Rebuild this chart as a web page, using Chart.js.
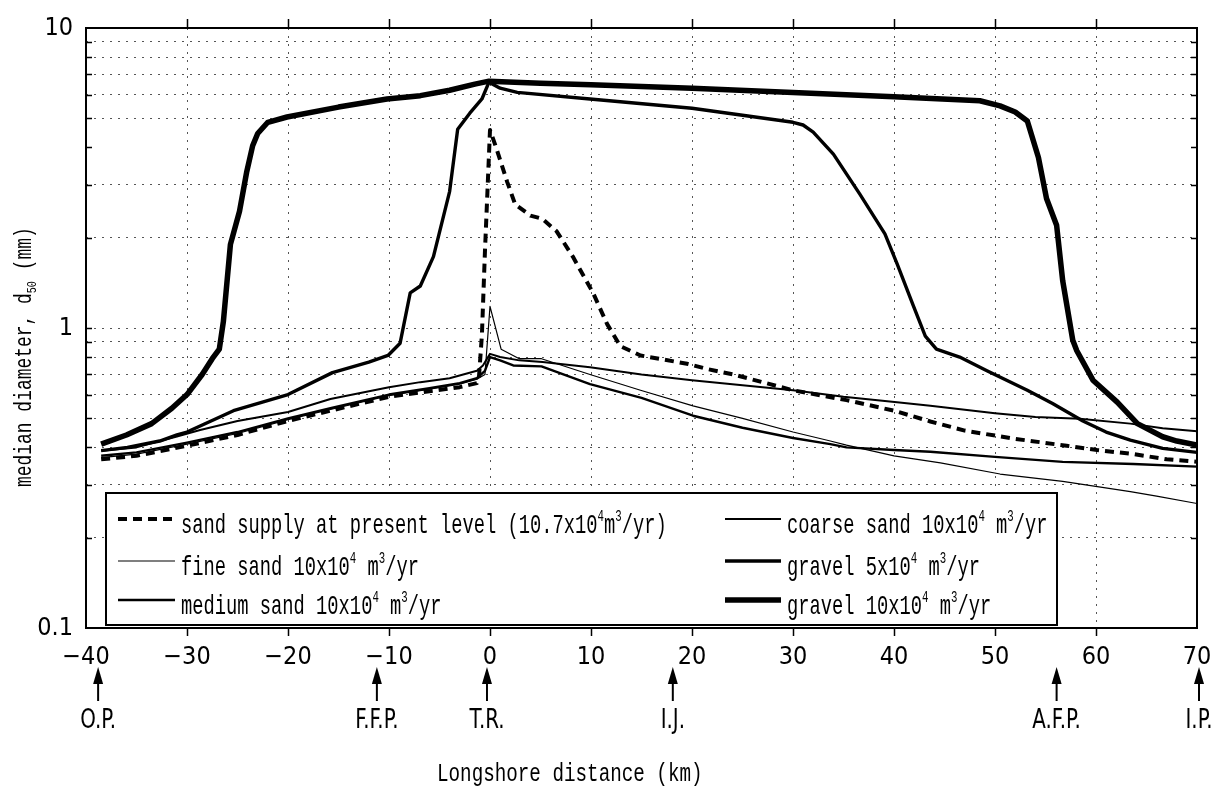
<!DOCTYPE html>
<html>
<head>
<meta charset="utf-8">
<script src="https://cdn.jsdelivr.net/npm/chart.js@4.4.1/dist/chart.umd.min.js"></script>
<style>
  html, body { margin: 0; padding: 0; background: #fff; }
  canvas { display: block; }
</style>
</head>
<body>
<canvas id="c" width="1229" height="791"></canvas>
<script>
// ── Data (km alongshore, d50 in mm) ─────────────────────────────────────────

const presentKm  = [-38.5, -35, -30, -25, -20, -15.8, -10, -6, -3, -1.3, -1.1, -0.8, -0.5, 0, 0.6, 1.7, 2.5, 4.0, 5.2, 6.6, 8.2, 10.2, 11.6, 12.9, 14.9, 19.5, 21.5, 24.1, 30, 35.3, 40, 43.6, 47, 51.8, 57.1, 60.1, 63.7, 67, 70];
const presentD50 = [0.365, 0.375, 0.405, 0.44, 0.49, 0.53, 0.59, 0.615, 0.635, 0.655, 0.68, 0.95, 1.8, 4.57, 4.0, 3.07, 2.58, 2.37, 2.31, 2.1, 1.73, 1.31, 1.03, 0.87, 0.81, 0.76, 0.73, 0.70, 0.62, 0.575, 0.53, 0.488, 0.455, 0.428, 0.405, 0.392, 0.38, 0.365, 0.358];

const fineKm  = [-38.5, -35, -30, -25, -20, -15.8, -10, -6, -3, -1.3, -0.5, 0, 1.1, 2.9, 5.1, 9.9, 14.9, 20.1, 25, 30, 33.7, 35.3, 40, 44.6, 50.5, 56.7, 63.4, 66, 70];
const fineD50 = [0.37, 0.38, 0.41, 0.445, 0.495, 0.535, 0.595, 0.625, 0.65, 0.675, 0.70, 1.18, 0.85, 0.79, 0.79, 0.70, 0.62, 0.55, 0.50, 0.45, 0.42, 0.407, 0.375, 0.355, 0.326, 0.308, 0.285, 0.275, 0.26];

const mediumKm  = [-38.5, -35, -30, -25, -20, -15.8, -10, -6, -3, -1.3, -0.5, 0, 1, 2.3, 5.1, 9.9, 15, 20.1, 25, 30, 33.7, 35.3, 40, 43.6, 50, 56.7, 63.7, 70];
const mediumD50 = [0.375, 0.385, 0.415, 0.45, 0.50, 0.54, 0.60, 0.63, 0.655, 0.68, 0.72, 0.80, 0.78, 0.75, 0.745, 0.65, 0.585, 0.51, 0.465, 0.43, 0.41, 0.40, 0.392, 0.387, 0.372, 0.358, 0.352, 0.345];

const coarseKm  = [-38.5, -35, -31, -28.7, -25, -20, -15.8, -10, -6.9, -4, -1.3, -0.7, 0, 1, 2.9, 5.2, 9.9, 15, 20, 25, 30, 35, 40.3, 43.6, 50, 54, 58.4, 63.4, 66.6, 70];
const coarseD50 = [0.39, 0.40, 0.435, 0.457, 0.49, 0.525, 0.58, 0.635, 0.66, 0.68, 0.72, 0.75, 0.82, 0.80, 0.78, 0.77, 0.74, 0.70, 0.67, 0.645, 0.62, 0.59, 0.566, 0.551, 0.52, 0.505, 0.498, 0.48, 0.463, 0.453];

const gravel5Km  = [-38.5, -35.9, -32.7, -31, -30, -25.4, -20, -15.6, -12, -10.1, -8.9, -7.9, -6.9, -5.6, -4.0, -3.2, -2.0, -0.8, -0.1, 1, 2.7, 9.9, 20, 30, 31, 32, 34, 36.6, 39.1, 40.3, 41.9, 43.1, 44.2, 46.5, 49.2, 53.2, 55.7, 58.7, 61, 63.4, 66.6, 70];
const gravel5D50 = [0.39, 0.40, 0.42, 0.44, 0.45, 0.53, 0.60, 0.71, 0.77, 0.81, 0.89, 1.31, 1.38, 1.73, 2.85, 4.6, 5.2, 5.8, 6.6, 6.3, 6.1, 5.8, 5.4, 4.85, 4.75, 4.5, 3.8, 2.8, 2.06, 1.64, 1.19, 0.94, 0.85, 0.80, 0.72, 0.62, 0.56, 0.49, 0.45, 0.423, 0.397, 0.385];

const gravel10Km  = [-38.5, -36, -33.5, -31.5, -30, -28.5, -27.5, -26.8, -26.4, -25.7, -24.8, -24.1, -23.5, -23.0, -22.0, -20.1, -15, -10.2, -6.9, -4, -1.5, -0.1, 5, 10, 20, 30, 40, 48.5, 50.5, 52, 53.2, 54.3, 55.1, 56.1, 56.7, 57.7, 58.1, 59.7, 62.1, 64.1, 66.6, 68, 70];
const gravel10D50 = [0.41, 0.44, 0.48, 0.54, 0.60, 0.70, 0.79, 0.85, 1.05, 1.9, 2.45, 3.3, 4.05, 4.45, 4.85, 5.05, 5.45, 5.8, 5.95, 6.2, 6.5, 6.65, 6.55, 6.47, 6.3, 6.1, 5.9, 5.72, 5.5, 5.25, 4.9, 3.7, 2.7, 2.2, 1.44, 0.91, 0.84, 0.67, 0.566, 0.48, 0.434, 0.42, 0.407];

const legendLabels = [
  'sand supply at present level (10.7x10^4m^3/yr)',
  'fine sand 10x10^4 m^3/yr',
  'medium sand 10x10^4 m^3/yr',
  'coarse sand 10x10^4 m^3/yr',
  'gravel 5x10^4 m^3/yr',
  'gravel 10x10^4 m^3/yr',
];

const xTickValues = [-40, -30, -20, -10, 0, 10, 20, 30, 40, 50, 60, 70];
const yTickValues = [0.1, 0.2, 0.3, 0.4, 0.5, 0.6, 0.7, 0.8, 0.9, 1, 2, 3, 4, 5, 6, 7, 8, 9, 10];
const yTickLabels = { 0.1: '0.1', 1: '1', 10: '10' };

const siteKm     = [-38.8, -11.2, -0.3, 18.1, 56.1, 70.2];
const siteLabels = ['O.P.', 'F.F.P.', 'T.R.', 'I.J.', 'A.F.P.', 'I.P.'];

// ── Helpers ─────────────────────────────────────────────────────────────────

const MONO   = '"Liberation Mono", "DejaVu Sans Mono", monospace';
const NARROW = '"Liberation Sans Narrow", "DejaVu Sans Condensed", "Liberation Sans", sans-serif';

const pts = (xs, ys) => xs.map((x, i) => ({ x, y: ys[i] }));

// draws text with ^x superscripts and _xx subscripts, squeezed horizontally
function drawRich(ctx, str, size, sx, family) {
  ctx.save();
  ctx.scale(sx, 1);
  ctx.textBaseline = 'alphabetic';
  ctx.textAlign = 'left';
  let cx = 0;
  for (const p of str.split(/(\^.|_\d+)/)) {
    if (!p) continue;
    const sup = p[0] === '^', sub = p[0] === '_';
    const t   = (sup || sub) ? p.slice(1) : p;
    const sz  = (sup || sub) ? Math.round(size * 0.58) : size;
    ctx.font = `${sz}px ${family}`;
    ctx.fillText(t, cx, sup ? -size * 0.42 : sub ? size * 0.2 : 0);
    cx += ctx.measureText(t).width;
  }
  ctx.restore();
}

// ── Frame, legend and annotations ───────────────────────────────────────────

const figurePlugin = {
  id: 'figure',
  afterDatasetsDraw(chart) {
    const { ctx } = chart;
    const box = { left: 106, top: 493, right: 1057, bottom: 625 };
    ctx.save();
    ctx.fillStyle = '#fff';
    ctx.fillRect(box.left, box.top, box.right - box.left, box.bottom - box.top);
    ctx.strokeStyle = '#000';
    ctx.lineWidth = 2;
    ctx.strokeRect(box.left, box.top, box.right - box.left, box.bottom - box.top);

    const cols = [{ x0: 118, x1: 175, tx: 181 }, { x0: 725, x1: 781, tx: 787 }];
    const rows = [519, 561, 600];
    chart.data.datasets.forEach((ds, i) => {
      const col = cols[i < 3 ? 0 : 1];
      const ly  = rows[i % 3];
      ctx.beginPath();
      ctx.lineWidth = ds.borderWidth;
      ctx.setLineDash(ds.borderDash || []);
      ctx.moveTo(col.x0, ly);
      ctx.lineTo(col.x1, ly);
      ctx.stroke();
      ctx.setLineDash([]);
      ctx.fillStyle = '#000';
      ctx.save();
      ctx.translate(col.tx, ly + 14);
      drawRich(ctx, legendLabels[i], 28, 0.67, MONO);
      ctx.restore();
    });
    ctx.restore();
  },
  afterDraw(chart) {
    const { ctx, chartArea: a, scales: { x, y } } = chart;
    ctx.save();
    ctx.strokeStyle = '#000';
    ctx.fillStyle = '#000';
    ctx.lineWidth = 2;
    ctx.strokeRect(a.left, a.top, a.right - a.left, a.bottom - a.top);

    ctx.lineWidth = 1.5;
    ctx.beginPath();
    xTickValues.slice(1, -1).forEach(v => {
      const px = Math.round(x.getPixelForValue(v)) + 0.5;
      ctx.moveTo(px, a.bottom); ctx.lineTo(px, a.bottom + 8);
      ctx.moveTo(px, a.top);    ctx.lineTo(px, a.top - 9);
    });
    yTickValues.slice(1, -1).forEach(v => {
      const py = Math.round(y.getPixelForValue(v)) + 0.5;
      ctx.moveTo(a.left, py);  ctx.lineTo(a.left + 6, py);
      ctx.moveTo(a.right, py); ctx.lineTo(a.right - 6, py);
    });
    ctx.stroke();

    // site arrows below the axis
    siteKm.forEach((km, i) => {
      const px = x.getPixelForValue(km);
      ctx.lineWidth = 2;
      ctx.beginPath();
      ctx.moveTo(px, 701); ctx.lineTo(px, 678);
      ctx.stroke();
      ctx.beginPath();
      ctx.moveTo(px, 667); ctx.lineTo(px - 5, 684); ctx.lineTo(px + 5, 684);
      ctx.closePath();
      ctx.fill();
      ctx.font = `26px ${NARROW}`;
      const w = ctx.measureText(siteLabels[i]).width * 0.85;
      ctx.save();
      ctx.translate(px - w / 2, 728);
      drawRich(ctx, siteLabels[i], 26, 0.85, NARROW);
      ctx.restore();
    });

    // axis titles
    ctx.save();
    ctx.translate(437, 781);
    drawRich(ctx, 'Longshore distance (km)', 26, 0.74, MONO);
    ctx.restore();

    ctx.save();
    ctx.translate(31, 487);
    ctx.rotate(-Math.PI / 2);
    drawRich(ctx, 'median diameter, d_50 (mm)', 23, 0.78, MONO);
    ctx.restore();
    ctx.restore();
  },
};

// ── Chart ───────────────────────────────────────────────────────────────────

const datasets = [
  { label: 'present',  data: pts(presentKm, presentD50),   borderWidth: 4,   borderDash: [9, 6] },
  { label: 'fine',     data: pts(fineKm, fineD50),         borderWidth: 1.2 },
  { label: 'medium',   data: pts(mediumKm, mediumD50),     borderWidth: 2.4 },
  { label: 'coarse',   data: pts(coarseKm, coarseD50),     borderWidth: 2 },
  { label: 'gravel5',  data: pts(gravel5Km, gravel5D50),   borderWidth: 3.4 },
  { label: 'gravel10', data: pts(gravel10Km, gravel10D50), borderWidth: 5.5 },
].map(ds => ({ ...ds, borderColor: '#000', backgroundColor: '#000', fill: false }));

new Chart(document.getElementById('c'), {
  type: 'line',
  data: { datasets },
  options: {
    responsive: false,
    animation: false,
    devicePixelRatio: 1,
    layout: { padding: { top: 22, right: 32, left: 0, bottom: 0 } },
    plugins: { legend: { display: false }, tooltip: { enabled: false } },
    elements: {
      point: { radius: 0 },
      line:  { tension: 0, borderJoinStyle: 'round', borderCapStyle: 'butt' },
    },
    scales: {
      x: {
        type: 'linear',
        min: -40,
        max: 70,
        afterBuildTicks: s => { s.ticks = xTickValues.map(v => ({ value: v })); },
        afterFit: s => { s.height = 163; },
        grid: {
          color: c => (c.tick && (c.tick.value === -40 || c.tick.value === 70)) ? 'rgba(0,0,0,0)' : '#555',
          lineWidth: 1,
          drawTicks: false,
        },
        border: { display: false, dash: [2, 6] },
        ticks: {
          color: '#000',
          padding: 14,
          autoSkip: false,
          maxRotation: 0,
          font: { family: NARROW, size: 25 },
          callback: v => v < 0 ? '\u2212' + Math.abs(v) : String(v),
        },
      },
      y: {
        type: 'logarithmic',
        min: 0.1,
        max: 10,
        afterBuildTicks: s => { s.ticks = yTickValues.map(v => ({ value: v })); },
        afterFit: s => { s.width = 86; },
        grid: {
          color: c => (c.tick && [0.1, 4, 10].includes(c.tick.value)) ? 'rgba(0,0,0,0)' : '#555',
          lineWidth: 1,
          drawTicks: false,
        },
        border: { display: false, dash: [2, 6] },
        ticks: {
          color: '#000',
          padding: 13,
          autoSkip: false,
          font: { family: NARROW, size: 25 },
          callback: v => yTickLabels[v] || '',
        },
      },
    },
  },
  plugins: [figurePlugin],
});
</script>
</body>
</html>
